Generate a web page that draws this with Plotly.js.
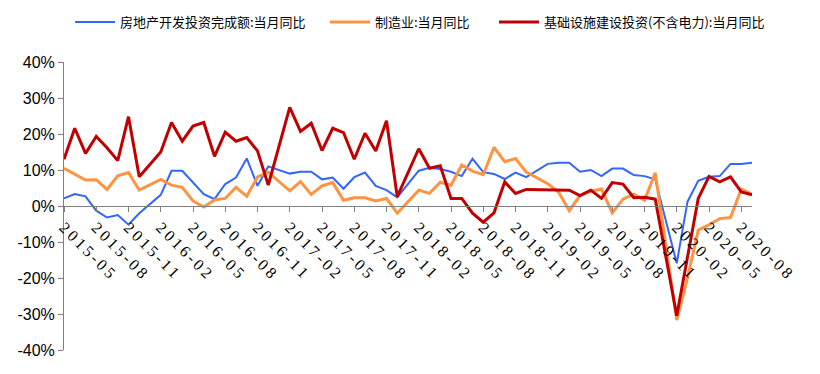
<!DOCTYPE html>
<html>
<head>
<meta charset="utf-8">
<script src="https://cdn.plot.ly/plotly-3.0.1.min.js"></script>
<style>html,body{margin:0;padding:0;background:#fff;}#chart{width:820px;height:374px;}
#chart .xtick text{letter-spacing:3px;}</style>
</head>
<body>
<div id="chart"></div>
<script>
// Months 2015-05 .. 2020-09 (January values are not published -> null)
const months = [];
(function(){ let y=2015, m=5; while (y<2020 || (y===2020 && m<=9)) { months.push(y+'-'+String(m).padStart(2,'0')); m++; if (m>12){m=1;y++;} } })();

const realEstate = [2.1,3.3,2.7,-1.3,-3.2,-2.5,-5.2,-2.0, null,3.1,9.8,9.8,6.6,3.3,1.9,6.1,7.9,13.2,5.6,11.0,
  null,9.0,9.5,9.5,7.4,7.9,4.8,8.0,9.3,5.6,4.4,2.4,
  null,9.8,10.6,10.3,9.5,8.3,13.1,9.4,8.9,7.5,9.3,8.0,
  null,11.7,12.0,12.0,9.5,10.0,8.3,10.4,10.4,8.6,8.3,7.4,
  null,-15.9,1.2,7.0,8.1,8.3,11.7,11.7,12.0];

const manufacturing = [10.5,8.9,7.2,7.3,4.6,8.4,9.3,4.4, null,7.4,5.8,5.2,1.4,-0.3,1.7,2.1,5.2,2.7,8.1,9.4,
  null,4.2,6.8,3.2,5.6,6.5,1.6,2.3,2.3,1.4,2.1,-2.0,
  null,4.4,3.5,6.6,5.8,11.4,9.7,8.7,16.3,12.3,13.2,9.4,
  null,6.2,3.9,-1.3,2.9,4.1,4.7,-1.9,1.9,3.3,1.6,9.2,
  null,-31.7,-20.0,-6.7,-5.2,-3.5,-3.2,4.7,3.3];

const infrastructure = [13.0,21.6,14.6,19.3,16.2,12.6,24.8,8.1, null,15.0,23.2,18.0,22.2,23.2,13.8,20.5,18.0,19.0,15.3,5.8,
  null,27.4,20.7,23.0,15.4,21.6,20.4,13.0,20.2,15.3,23.7,2.6,
  null,15.9,10.5,11.2,2.1,2.1,-2.0,-4.5,-1.9,6.7,3.5,4.6,
  null,4.5,4.4,4.4,2.9,4.4,2.1,6.5,6.1,2.3,2.4,1.9,
  null,-30.5,-14.0,2.1,8.2,6.7,8.1,3.9,3.1];

const seriesNames = ['房地产开发投资完成额:当月同比','制造业:当月同比','基础设施建设投资(不含电力):当月同比'];
const xTickLabels = ['2015-05','2015-08','2015-11','2016-02','2016-05','2016-08','2016-11','2017-02','2017-05','2017-08','2017-11',
  '2018-02','2018-05','2018-08','2018-11','2019-02','2019-05','2019-08','2019-11','2020-02','2020-05','2020-08'];
const yTickVals = [-40,-30,-20,-10,0,10,20,30,40];
const yTickText = ['-40%','-30%','-20%','-10%','0%','10%','20%','30%','40%'];

const traces = [
  {x: months, y: realEstate, name: seriesNames[0], type:'scatter', mode:'lines', connectgaps:true,
   line:{color:'#3366FF', width:2}, legend:'legend'},
  {x: months, y: manufacturing, name: seriesNames[1], type:'scatter', mode:'lines', connectgaps:true,
   line:{color:'#FF9340', width:3}, legend:'legend2'},
  {x: months, y: infrastructure, name: seriesNames[2], type:'scatter', mode:'lines', connectgaps:true,
   line:{color:'#C00000', width:3}, legend:'legend3'}
];

const legendBase = {orientation:'h', xref:'container', yref:'container', yanchor:'middle', y: 1-22/374,
  font:{family:'Noto Sans CJK SC', size:13, color:'#000'}, bgcolor:'rgba(0,0,0,0)', itemwidth:40};

const layout = {
  width:820, height:374,
  margin:{l:64, r:68, t:62, b:24},
  paper_bgcolor:'#fff', plot_bgcolor:'#fff',
  showlegend:true,
  legend: Object.assign({}, legendBase, {x: 70/820}),
  legend2: Object.assign({}, legendBase, {x: 325/820}),
  legend3: Object.assign({}, legendBase, {x: 494/820}),
  xaxis:{type:'category', range:[0, months.length-1], anchor:'free', position:0.5,
    tickmode:'array', tickvals:xTickLabels, ticktext:xTickLabels, tickangle:45,
    ticks:'outside', ticklen:5, tickcolor:'#808080', showline:true, linecolor:'#808080', linewidth:1,
    showgrid:false, zeroline:false,
    tickfont:{family:'Liberation Serif', size:16, color:'#000'}},
  yaxis:{range:[-40,40], tickmode:'array', tickvals:yTickVals, ticktext:yTickText,
    ticks:'outside', ticklen:5, tickcolor:'#808080', showline:true, linecolor:'#808080', linewidth:1,
    showgrid:false, zeroline:false,
    tickfont:{family:'Liberation Sans', size:16, color:'#000'}}
};

Plotly.newPlot('chart', traces, layout, {displayModeBar:false, staticPlot:true});
</script>
</body>
</html>
